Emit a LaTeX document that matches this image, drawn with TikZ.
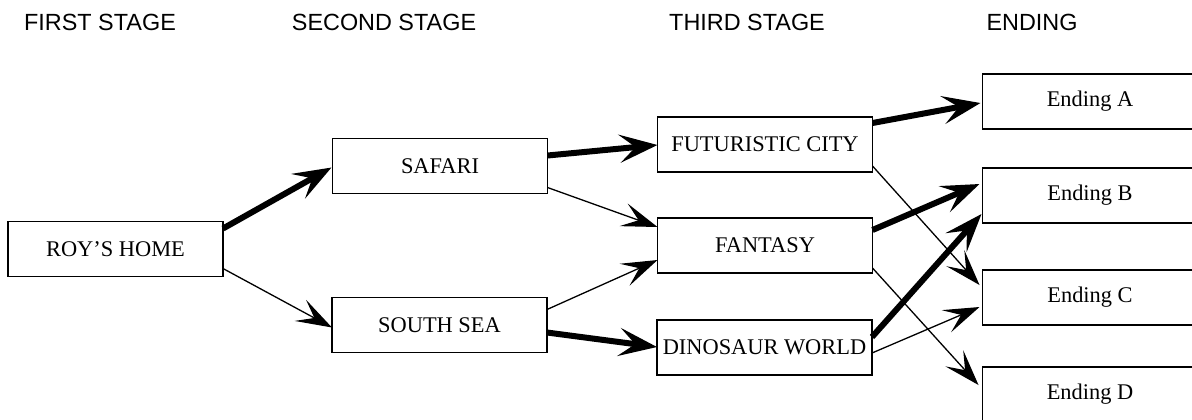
\documentclass[tikz,border=0pt]{standalone}
\usepackage{fontspec}
\setmainfont{Liberation Serif}
\newfontfamily\headfont{Liberation Sans}
\usetikzlibrary{arrows.meta,calc}
\tikzset{
  stagebox/.style={draw, line width=0.9pt, minimum width=107.5pt, minimum height=27.5pt,
    inner sep=0pt, outer sep=0pt, font=\fontsize{11.2}{13}\selectfont},
  headlabel/.style={anchor=base, inner sep=0pt, font=\headfont\fontsize{11.7}{14}\selectfont},
  thickarrow/.style={line width=3pt, -{Stealth[length=19pt, width=14pt, inset=8pt]}},
  thinarrow/.style={line width=0.65pt, -{Stealth[length=18pt, width=12pt, inset=8pt]}}
}
\begin{document}
\begin{tikzpicture}[x=0.5pt, y=-0.5pt]
\useasboundingbox (0,0) rectangle (1192,419);
\clip (0,0) rectangle (1192,419);
% headers
\node[headlabel] (h1) at (100,30) {FIRST STAGE};
\node[headlabel] (h2) at (384,30) {SECOND STAGE};
\node[headlabel] (h3) at (747,30) {THIRD STAGE};
\node[headlabel] (h4) at (1032,30) {ENDING};
% boxes
\node[stagebox] (roy) at (115.5,249) {ROY'S HOME};
\node[stagebox] (safari) at (440,166) {SAFARI};
\node[stagebox] (south) at (439.5,325) {SOUTH SEA};
\node[stagebox] (fut) at (765,144.5) {FUTURISTIC CITY};
\node[stagebox] (fan) at (765,245.5) {FANTASY};
\node[stagebox] (dino) at (764.5,347.5) {DINOSAUR WORLD};
\node[stagebox] (ea) at (1090,101.5) {Ending A};
\node[stagebox] (eb) at (1090,195.5) {Ending B};
\node[stagebox] (ec) at (1090,297.5) {Ending C};
\node[stagebox] (ed) at (1090,394.5) {Ending D};
% connectors
\draw[thickarrow] ($(roy.north east)+(0,7)$) -- ($(safari.north west)+(-1,29)$);
\draw[thinarrow] ($(roy.north east)+(0,47)$) -- ($(south.north west)+(0,30)$);
\draw[thickarrow] ($(safari.north east)+(0,17)$) -- ($(fut.north west)+(0,28)$);
\draw[thinarrow] ($(safari.north east)+(0,49)$) -- ($(fan.north west)+(0,9)$);
\draw[thinarrow] ($(south.north east)+(0,12)$) -- ($(fan.north west)+(0,42)$);
\draw[thickarrow] ($(south.north east)+(0,35)$) -- ($(dino.north west)+(0,27)$);
\draw[thickarrow] ($(fut.north east)+(0,6)$) -- ($(ea.north west)+(-2,29)$);
\draw[thinarrow] ($(fut.north east)+(0,49)$) -- ($(ec.north west)+(-3,15)$);
\draw[thickarrow] ($(fan.north east)+(0,12)$) -- ($(eb.north west)+(-3,16)$);
\draw[thinarrow] ($(fan.north east)+(0,50)$) -- ($(ed.north west)+(-4,18)$);
\draw[thickarrow] ($(dino.north east)+(0,17)$) -- ($(eb.north west)+(-1,46)$);
\draw[thinarrow] ($(dino.north east)+(0,33)$) -- ($(ec.north west)+(-3,37)$);
\end{tikzpicture}
\end{document}
